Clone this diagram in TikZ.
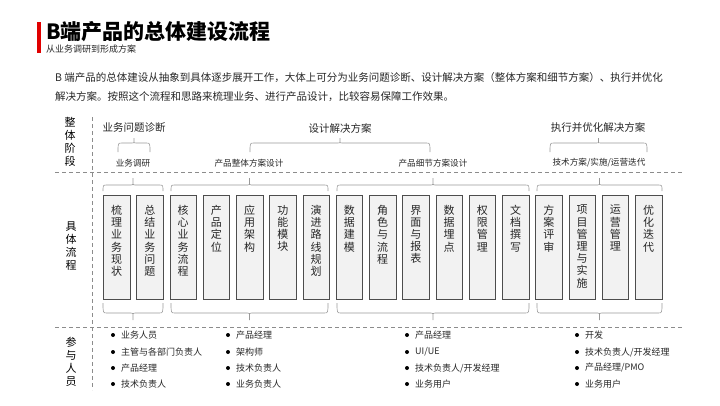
\documentclass[tikz,border=0pt]{standalone}
\usepackage{fontspec}
\setmainfont{Noto Sans CJK SC}
\definecolor{tred}{HTML}{E00000}
\definecolor{lgray}{HTML}{8C8C8C}
\definecolor{bgray}{HTML}{999999}
\definecolor{boxfill}{HTML}{F2F2F2}
\definecolor{boxline}{HTML}{4D4D4D}
\definecolor{txt}{HTML}{262626}
\newcommand\mybrace[5]{%
  \draw[bracestyle] (#1,#4) .. controls (#1,#3) .. ({#1+4},#3) -- ({(#1+#2)/2-2},#3)
    .. controls ({(#1+#2)/2},#3) .. ({(#1+#2)/2},{#3+(#5-#3)*0.4}) -- ({(#1+#2)/2},#5)
    -- ({(#1+#2)/2},{#3+(#5-#3)*0.4}) .. controls ({(#1+#2)/2},#3) .. ({(#1+#2)/2+2},#3) -- ({#2-4},#3)
    .. controls (#2,#3) .. (#2,#4);}
\begin{document}
\begin{tikzpicture}[x=1pt,y=-1pt,
  dashline/.style={draw=lgray, dash pattern=on 4pt off 3pt, line width=0.6pt},
  bracestyle/.style={draw=bgray, line width=0.6pt},
  procbox/.style={draw=boxline, fill=boxfill, line width=0.6pt, minimum width=26.5pt, minimum height=104pt, anchor=north west, inner sep=0pt},
  boxtext/.style={font=\fontsize{11}{12.2}\selectfont, text=txt, align=center, anchor=north, inner sep=0pt},
  stage/.style={font=\fontsize{10.5}{12}\selectfont, text=txt, inner sep=0pt},
  substage/.style={font=\fontsize{8.6}{10}\selectfont, text=txt, inner sep=0pt},
  rowlabel/.style={font=\fontsize{11}{12.8}\selectfont, align=center, text=black, inner sep=0pt},
  item/.style={font=\fontsize{9}{10}\selectfont, text=txt, anchor=west, inner sep=0pt},
  dot/.style={circle, fill=black, inner sep=0pt, minimum size=4pt},
  para/.style={font=\fontsize{10.5}{12}\selectfont, text=txt, anchor=west, inner sep=0pt}
]
\useasboundingbox (0,0) rectangle (720,405);

% title
\fill[tred] (37,22) rectangle (41,53);
\node[anchor=west, inner sep=0pt, font=\fontsize{21}{24}\selectfont\bfseries] (title) at (46,32) {B端产品的总体建设流程};
\node[anchor=west, inner sep=0pt, font=\fontsize{9}{10}\selectfont, text=txt] (subtitle) at (46,49) {从业务调研到形成方案};

% paragraph
\node[para] (p1) at (55,78) {B 端产品的总体建设从抽象到具体逐步展开工作，大体上可分为业务问题诊断、设计解决方案（整体方案和细节方案）、执行并优化};
\node[para] (p2) at (55,97) {解决方案。按照这个流程和思路来梳理业务、进行产品设计，比较容易保障工作效果。};

% grid lines
\draw[dashline] (92,117) -- (92,390);
\draw[dashline] (55,172) -- (682,172);
\draw[dashline] (55,327) -- (682,327);

% row labels
\node[rowlabel] (r1) at (70,142) {整\\体\\阶\\段};
\node[rowlabel] (r2) at (71,246) {具\\体\\流\\程};
\node[rowlabel] (r3) at (71,362) {参\\与\\人\\员};

% stages
\node[stage] (s1) at (134,128) {业务问题诊断};
\node[stage] (s2) at (340,128) {设计解决方案};
\node[stage] (s3) at (598,128) {执行并优化解决方案};
\mybrace{118}{150}{143}{152}{138}
\mybrace{250}{430}{143}{152}{138}
\mybrace{550}{647}{143}{152}{138}

\node[substage] (u1) at (133,163) {业务调研};
\node[substage] (u2) at (249,163) {产品整体方案设计};
\node[substage] (u3) at (433,163) {产品细节方案设计};
\node[substage] (u4) at (599,163) {技术方案/实施/运营迭代};

% group braces
\foreach \a/\b in {103/163,171/328,337/529,537/662}{
  \mybrace{\a}{\b}{185}{191}{178}
  \mybrace{\a}{\b}{313}{303}{320}
}

% process boxes
\foreach \i/\t in {1/{梳\\理\\业\\务\\现\\状},2/{总\\结\\业\\务\\问\\题},3/{核\\心\\业\\务\\流\\程},
  4/{产\\品\\定\\位},5/{应\\用\\架\\构},6/{功\\能\\模\\块},7/{演\\进\\路\\线\\规\\划},
  8/{数\\据\\建\\模},9/{角\\色\\与\\流\\程},10/{界\\面\\与\\报\\表},11/{数\\据\\埋\\点},
  12/{权\\限\\管\\理},13/{文\\档\\撰\\写},14/{方\\案\\评\\审},15/{项\\目\\管\\理\\与\\实\\施},
  16/{运\\营\\管\\理},17/{优\\化\\迭\\代}}{
  \node[procbox] (b\i) at ({103+33.25*(\i-1)},195) {};
  \node[boxtext] (t\i) at ([yshift=-10pt]b\i.north) {\t};
}

% participants
\foreach \c/\x in {1/113,2/228,3/407,4/577}{
  \foreach \r/\y in {1/335,2/352,3/368,4/384}{
    \node[dot] (d\c\r) at (\x,\y) {};
  }
}
\node[item] (q11) at (121,335) {业务人员};
\node[item] (q12) at (121,352) {主管与各部门负责人};
\node[item] (q13) at (121,368) {产品经理};
\node[item] (q14) at (121,384) {技术负责人};
\node[item] (q21) at (236,335) {产品经理};
\node[item] (q22) at (236,352) {架构师};
\node[item] (q23) at (236,368) {技术负责人};
\node[item] (q24) at (236,384) {业务负责人};
\node[item] (q31) at (415,335) {产品经理};
\node[item] (q32) at (415,352) {UI/UE};
\node[item] (q33) at (415,368) {技术负责人/开发经理};
\node[item] (q34) at (415,384) {业务用户};
\node[item] (q41) at (585,335) {开发};
\node[item] (q42) at (585,352) {技术负责人/开发经理};
\node[item] (q43) at (585,368) {产品经理/PMO};
\node[item] (q44) at (585,384) {业务用户};
\end{tikzpicture}
\end{document}
